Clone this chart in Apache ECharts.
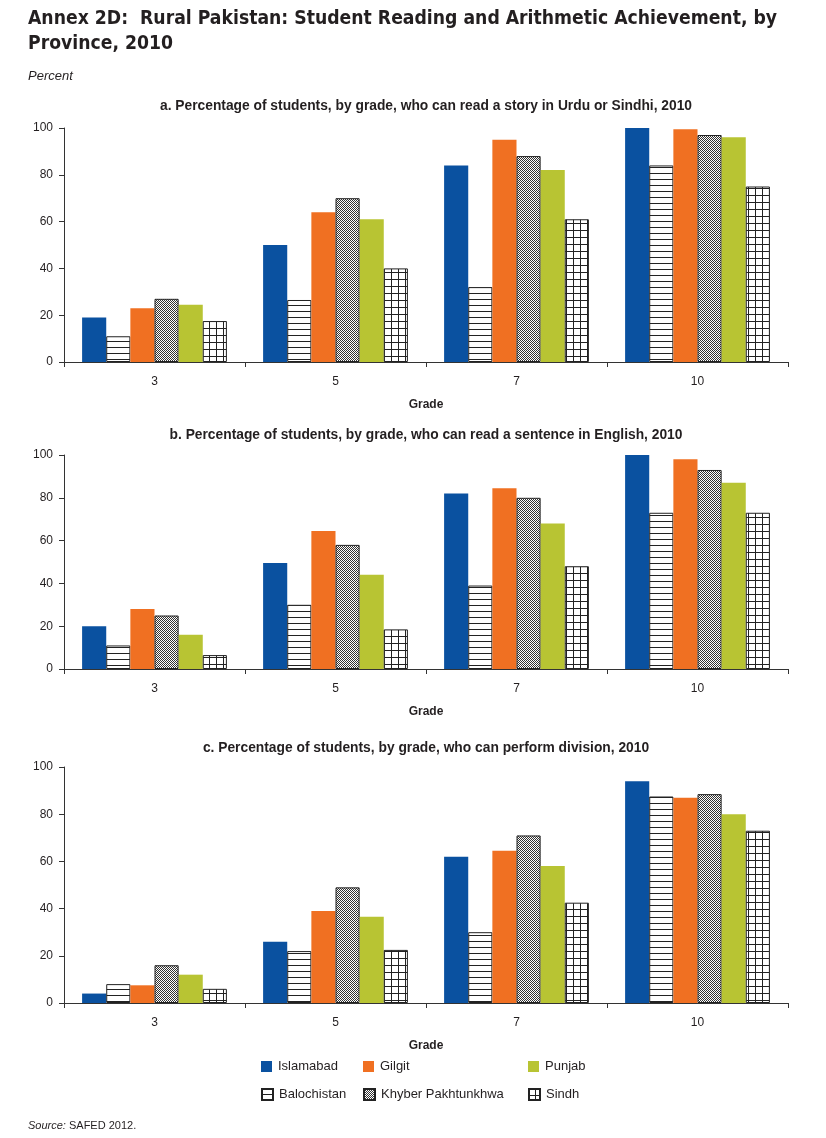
<!DOCTYPE html>
<html><head><meta charset="utf-8">
<script src="https://cdn.jsdelivr.net/npm/echarts@6/dist/echarts.min.js"></script>
<style>html,body{margin:0;padding:0;background:#fff}#c{width:826px;height:1138px}</style>
</head><body><div id="c"></div>
<script>
const grades = ['3','5','7','10'];
const provinces = ['Islamabad','Balochistan','Gilgit','Khyber Pakhtunkhwa','Punjab','Sindh'];
const yTicks = [0,20,40,60,80,100];
const panelTitles = [
  'a. Percentage of students, by grade, who can read a story in Urdu or Sindhi, 2010',
  'b. Percentage of students, by grade, who can read a sentence in English, 2010',
  'c. Percentage of students, by grade, who can perform division, 2010'
];
// panel a: reading a story in Urdu or Sindhi (values per grade 3,5,7,10)
const storyIslamabad   = [19, 50, 84, 100];
const storyBalochistan = [11, 26.5, 32, 84];
const storyGilgit      = [23, 64, 95, 99.5];
const storyKP          = [27, 70, 88, 97];
const storyPunjab      = [24.5, 61, 82, 96];
const storySindh       = [17.5, 40, 61, 75];
// panel b: reading a sentence in English
const engIslamabad   = [20, 49.5, 82, 100];
const engBalochistan = [11, 30, 39, 73];
const engGilgit      = [28, 64.5, 84.5, 98];
const engKP          = [25, 58, 80, 93];
const engPunjab      = [16, 44, 68, 87];
const engSindh       = [6.5, 18.5, 48, 73];
// panel c: division
const divIslamabad   = [4, 26, 62, 94];
const divBalochistan = [8, 22, 30, 87.5];
const divGilgit      = [7.5, 39, 64.5, 87];
const divKP          = [16, 49, 71, 88.5];
const divPunjab      = [12, 36.5, 58, 80];
const divSindh       = [6, 22.5, 42.5, 73];

const panels = [
  [storyIslamabad, storyBalochistan, storyGilgit, storyKP, storyPunjab, storySindh],
  [engIslamabad, engBalochistan, engGilgit, engKP, engPunjab, engSindh],
  [divIslamabad, divBalochistan, divGilgit, divKP, divPunjab, divSindh]
];

function mk(w,h,draw){const c=document.createElement('canvas');c.width=w;c.height=h;const g=c.getContext('2d');g.fillStyle='#fff';g.fillRect(0,0,w,h);draw(g);return {image:c,repeat:'repeat'};}
const hLines = mk(6,6,g=>{g.fillStyle='#222';g.fillRect(0,5,6,1);});
const checks = mk(2,2,g=>{g.fillStyle='#333';g.fillRect(0,0,1,1);g.fillRect(1,1,1,1);});
const gridP = mk(7,7,g=>{g.fillStyle='#222';g.fillRect(0,6,7,1);g.fillRect(6,0,1,7);});
const styles = [
  {color:'#0a51a0'},
  {color:hLines,borderColor:'#222',borderWidth:1},
  {color:'#f07022'},
  {color:checks,borderColor:'#222',borderWidth:1},
  {color:'#b8c433'},
  {color:gridP,borderColor:'#222',borderWidth:1}
];

const FONT = "'Liberation Sans', Arial, sans-serif";
const TXT = '#231f20';
const grids = [
  {left:64,right:38,top:128,height:234},
  {left:64,right:38,top:455,height:214},
  {left:64,right:38,top:767,height:236}
];
const titleTops = [94,423,736];

const option = {
  animation:false,
  backgroundColor:'#fff',
  textStyle:{fontFamily:FONT,color:TXT},
  title:[
    {text:'Annex 2D:  Rural Pakistan: Student Reading and Arithmetic Achievement, by\nProvince, 2010',left:23,top:2,
     textStyle:{fontFamily:"'Liberation Sans Narrow','DejaVu Sans Condensed',sans-serif",fontWeight:'bold',fontSize:19.2,lineHeight:25,color:TXT}},
    {text:'Percent',left:23,top:65,textStyle:{fontFamily:FONT,fontStyle:'italic',fontWeight:'normal',fontSize:13,color:TXT}},
    {text:'{i|Source:} SAFED 2012.',left:23,top:1115,textStyle:{fontFamily:FONT,fontWeight:'normal',fontSize:11,color:TXT,rich:{i:{fontStyle:'italic',fontSize:11,fontFamily:FONT,color:TXT}}}}
  ].concat(panelTitles.map((t,i)=>({text:t,left:421,textAlign:'center',top:titleTops[i],textStyle:{fontFamily:FONT,fontWeight:'bold',fontSize:13.8,color:TXT}}))),
  legend: provinces.map((p,i)=>({
    data:[p], left:0, top:0, padding:0,
    itemWidth:11,itemHeight:11,icon:'rect',itemGap:0,selectedMode:false,
    textStyle:{fontFamily:FONT,fontSize:13,color:TXT,padding:[0,0,0,1]}
  })),
  grid:grids,
  xAxis:grids.map((g,i)=>({
    type:'category',gridIndex:i,data:grades,
    name:'Grade',nameLocation:'middle',nameGap:37,
    nameTextStyle:{fontFamily:FONT,fontWeight:'bold',fontSize:12,color:TXT},
    axisLine:{lineStyle:{color:'#333',width:1}},
    axisTick:{show:true,length:5,lineStyle:{color:'#333'}},
    axisLabel:{fontFamily:FONT,fontSize:12,color:TXT,margin:14}
  })),
  yAxis:grids.map((g,i)=>({
    type:'value',gridIndex:i,min:0,max:100,interval:20,
    axisLine:{show:true,lineStyle:{color:'#333',width:1}},
    axisTick:{show:true,length:5,lineStyle:{color:'#333'}},
    splitLine:{show:false},
    axisLabel:{fontFamily:FONT,fontSize:12,color:TXT,margin:11}
  })),
  series:[]
};
// legend positions: 3 columns x 2 rows
const legPos = {
  'Islamabad':[261,1060],'Gilgit':[363,1060],'Punjab':[528,1060],
  'Balochistan':[261,1088],'Khyber Pakhtunkhwa':[363,1088],'Sindh':[528,1088]
};
option.legend.forEach(l=>{const p=legPos[l.data[0]];l.left=p[0];l.top=p[1];});

panels.forEach((arrs,pi)=>{
  arrs.forEach((vals,si)=>{
    option.series.push({
      type:'bar',name:provinces[si],xAxisIndex:pi,yAxisIndex:pi,
      data:vals,barGap:'0%',barCategoryGap:'20%',
      itemStyle:styles[si]
    });
  });
});

const chart = echarts.init(document.getElementById('c'),null,{renderer:'canvas'});
chart.setOption(option);
</script></body></html>
